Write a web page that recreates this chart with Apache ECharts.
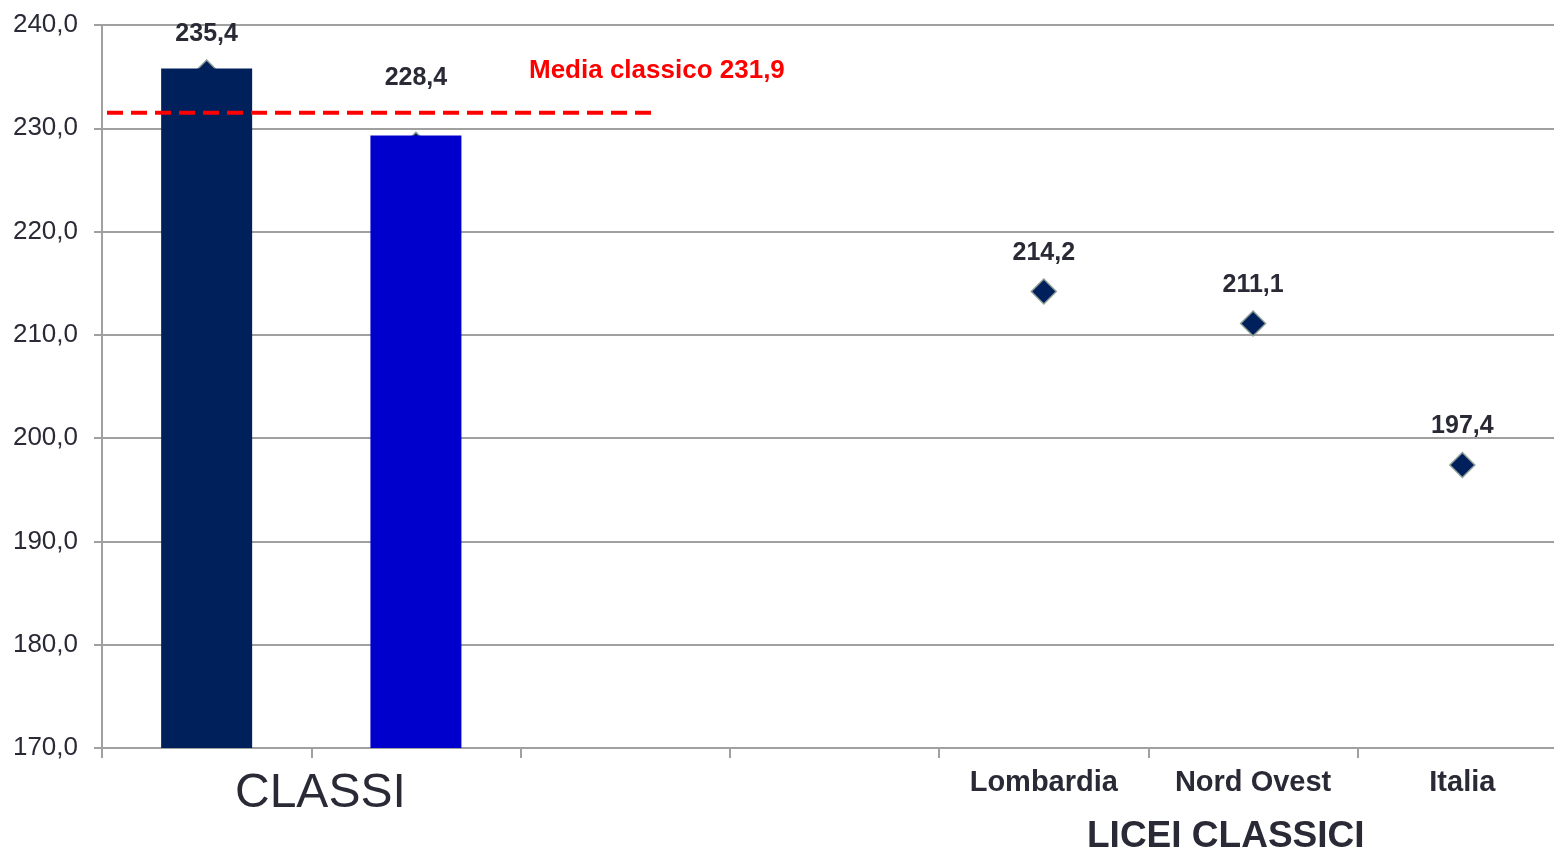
<!DOCTYPE html>
<html>
<head>
<meta charset="utf-8">
<script src="https://cdn.jsdelivr.net/npm/echarts@6/dist/echarts.min.js"></script>
<style>
html, body { margin: 0; padding: 0; background: #fff; overflow: hidden; }
#chart { width: 1568px; height: 854px; }
</style>
</head>
<body>
<div id="chart"></div>
<script>
var categories = ['', '', '', '', 'Lombardia', 'Nord Ovest', 'Italia'];
var barClasse1 = [235.8, null, null, null, null, null, null];
var barClasse2 = [null, 229.3, null, null, null, null, null];
var punti = [235.4, 228.4, null, null, 214.2, 211.1, 197.4];
var mediaValore = 231.5;
var mediaEstensione = [-0.476, 2.128];
var yTicks = [170, 240, 10];

var fmt = function (v) { return v.toFixed(1).replace('.', ','); };

// the label of the second class sits higher, above the mean line
var puntiData = punti.map(function (v, i) {
    return i === 1 ? { value: v, label: { distance: 41 } } : v;
});

var chart = echarts.init(document.getElementById('chart'));
var option = {
    animation: false,
    grid: { left: 102, right: 1, top: 25, bottom: 106, containLabel: false },
    xAxis: [{
        type: 'category',
        data: categories,
        axisLine: { lineStyle: { color: '#a0a0a0', width: 2 } },
        axisTick: { show: true, length: 10, lineStyle: { color: '#a0a0a0', width: 2 } },
        axisLabel: {
            margin: 20,
            fontFamily: 'Liberation Sans',
            fontSize: 29,
            fontWeight: 'bold',
            color: '#2a2a36'
        }
    }, {
        type: 'value',
        min: -0.5,
        max: 6.5,
        show: false
    }],
    yAxis: {
        type: 'value',
        min: yTicks[0],
        max: yTicks[1],
        interval: yTicks[2],
        axisLine: { show: true, onZero: false, lineStyle: { color: '#a0a0a0', width: 2 } },
        axisTick: { show: true, length: 8, lineStyle: { color: '#a0a0a0', width: 2 } },
        splitLine: { lineStyle: { color: '#a0a0a0', width: 2 } },
        axisLabel: {
            margin: 24,
            formatter: fmt,
            fontFamily: 'Liberation Sans',
            fontSize: 26,
            color: '#2a2a36'
        }
    },
    series: [{
        type: 'bar',
        data: barClasse1,
        barWidth: 91,
        barGap: '-100%',
        itemStyle: { color: '#00205c' }
    }, {
        type: 'bar',
        data: barClasse2,
        barWidth: 91,
        barGap: '-100%',
        itemStyle: { color: '#0000cc' }
    }, {
        type: 'scatter',
        data: puntiData,
        symbol: 'diamond',
        symbolSize: [25, 25],
        z: 1,
        itemStyle: { color: '#00205c', borderColor: '#8f9f97', borderWidth: 1.5, opacity: 1 },
        label: {
            show: true,
            position: 'top',
            distance: 13,
            formatter: function (p) { return fmt(p.value); },
            fontFamily: 'Liberation Sans',
            fontSize: 25,
            fontWeight: 'bold',
            color: '#2a2a36'
        }
    }, {
        type: 'line',
        xAxisIndex: 1,
        data: [[mediaEstensione[0], mediaValore], [mediaEstensione[1], mediaValore]],
        symbol: 'none',
        z: 5,
        lineStyle: { color: '#ff0000', width: 4, type: [16, 8] }
    }],
    graphic: [{
        type: 'text',
        left: 529,
        top: 58,
        style: {
            text: 'Media classico 231,9',
            fontFamily: 'Liberation Sans',
            fontSize: 26,
            fontWeight: 'bold',
            fill: '#ff0000'
        }
    }, {
        type: 'text',
        left: 235,
        top: 770,
        style: {
            text: 'CLASSI',
            fontFamily: 'Liberation Sans',
            fontSize: 48,
            fill: '#2a2a36'
        }
    }, {
        type: 'text',
        left: 1087,
        top: 818,
        style: {
            text: 'LICEI CLASSICI',
            fontFamily: 'Liberation Sans',
            fontSize: 37,
            fontWeight: 'bold',
            fill: '#2a2a36'
        }
    }]
};
chart.setOption(option);
</script>
</body>
</html>
